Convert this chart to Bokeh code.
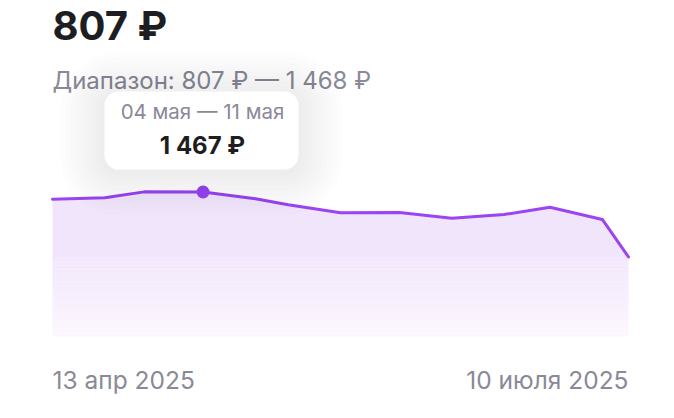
import pandas as pd
from bokeh.plotting import figure
from bokeh.models import Range1d, Label, BoxAnnotation
from bokeh.embed import file_html
from bokeh.resources import INLINE

# ---- data ----
dates = ["2025-04-13", "2025-04-21", "2025-04-27", "2025-05-06", "2025-05-14",
         "2025-05-19", "2025-05-27", "2025-06-05", "2025-06-13", "2025-06-21",
         "2025-06-28", "2025-07-06", "2025-07-10"]
prices = [1394, 1408, 1468, 1467, 1398, 1337, 1256, 1259, 1201, 1238, 1312, 1188, 807]
x_tick_labels = ["13 апр 2025", "10 июля 2025"]
highlight_index = 3
highlight_period = "04 мая — 11 мая"
range_label = "Диапазон"


def rub(v):
    s = f"{int(v):,}".replace(",", "\u00a0")
    return s + "\u00a0₽"


x = pd.to_datetime(dates)
x_ms = [t.timestamp() * 1000 for t in x]

FONT = "Inter"
GRAY = "#8a8998"
DARK = "#1e1e22"
PURPLE = "#9a44f2"

W, H = 666, 410
# plot area in pixels: data spans px 52..628 horizontally; value 0 sits at px 336
PX_L, PX_R, PX_ZERO = 52, 628, 336
UNITS_PER_PX = 10.15
ms_per_px = (x_ms[-1] - x_ms[0]) / (PX_R - PX_L)
x_start = x_ms[0] - PX_L * ms_per_px
x_end = x_ms[-1] + (W - PX_R) * ms_per_px
y_start = -(H - PX_ZERO) * UNITS_PER_PX
y_end = PX_ZERO * UNITS_PER_PX

p = figure(width=W, height=H, output_backend="svg", toolbar_location=None,
           x_axis_type="datetime",
           x_range=Range1d(x_start, x_end), y_range=Range1d(y_start, y_end),
           min_border=0)
p.axis.visible = False
p.grid.visible = False
p.outline_line_color = None
p.background_fill_color = "white"
p.border_fill_color = "white"

# ---- gradient-like fill under the line ----
c_top = (242, 231, 252)
c_bot = (252, 247, 253)
floor = 800


def col(v):
    t = max(0.0, min(1.0, v / floor))
    r, g, b = (round(c_bot[i] + (c_top[i] - c_bot[i]) * t) for i in range(3))
    return f"#{r:02x}{g:02x}{b:02x}"


p.varea(x=x, y1=[floor] * len(x), y2=prices, fill_color="#f1e5fc")
step = 40
lefts, rights, bottoms, tops, cols = [], [], [], [], []
for lo in range(0, floor, step):
    lefts.append(x[0]); rights.append(x[-1])
    bottoms.append(lo); tops.append(lo + step + 1)
    cols.append(col(lo + step / 2))
p.quad(left=lefts, right=rights, bottom=bottoms, top=tops, fill_color=cols, line_color=None)

# ---- line and highlighted point ----
p.line(x=x, y=prices, line_color=PURPLE, line_width=3, line_join="round", line_cap="round")
p.scatter(x=[x[highlight_index]], y=[prices[highlight_index]], size=13,
          fill_color=PURPLE, line_color=None)

# ---- header texts (screen units: x from left, y up from bottom) ----
p.add_layout(Label(x=52, y=385, x_units="screen", y_units="screen",
                   text=rub(prices[-1]), text_font=FONT, text_font_size="40px",
                   text_font_style="bold", text_color=DARK, text_baseline="alphabetic"))
p.add_layout(Label(x=52, y=330, x_units="screen", y_units="screen",
                   text=f"{range_label}: {rub(min(prices))} — {rub(max(prices))}",
                   text_font=FONT, text_font_size="24px", text_color=GRAY,
                   text_baseline="alphabetic"))

# ---- tooltip with soft shadow ----
bx0, bx1, by0, by1 = 104, 298, 241, 319
for grow in range(44, 0, -5):
    p.add_layout(BoxAnnotation(left=bx0 - grow, right=bx1 + grow,
                               bottom=by0 - grow - 2, top=by1 + grow - 4,
                               left_units="screen", right_units="screen",
                               bottom_units="screen", top_units="screen",
                               fill_color="black", fill_alpha=0.006, line_color=None,
                               border_radius=14 + grow))
p.add_layout(BoxAnnotation(left=bx0, right=bx1, bottom=by0, top=by1,
                           left_units="screen", right_units="screen",
                           bottom_units="screen", top_units="screen",
                           fill_color="white", fill_alpha=1.0, line_color=None,
                           border_radius=14))
cx = (bx0 + bx1) / 2 + 1
p.add_layout(Label(x=cx, y=299, x_units="screen", y_units="screen",
                   text=highlight_period, text_font=FONT, text_font_size="20.5px",
                   text_color=GRAY, text_align="center", text_baseline="alphabetic"))
p.add_layout(Label(x=cx, y=265, x_units="screen", y_units="screen",
                   text=rub(prices[highlight_index]), text_font=FONT, text_font_size="24px",
                   text_font_style="bold", text_color=DARK, text_align="center",
                   text_baseline="alphabetic"))

# ---- x end labels ----
p.add_layout(Label(x=x_ms[0], y=31, x_units="data", y_units="screen",
                   text=x_tick_labels[0], text_font=FONT, text_font_size="24.5px",
                   text_color=GRAY, text_align="left", text_baseline="alphabetic"))
p.add_layout(Label(x=x_ms[-1], y=31, x_units="data", y_units="screen",
                   text=x_tick_labels[1], text_font=FONT, text_font_size="24.5px",
                   text_color=GRAY, text_align="right", text_baseline="alphabetic"))

open("out.html", "w").write(file_html(p, INLINE))
